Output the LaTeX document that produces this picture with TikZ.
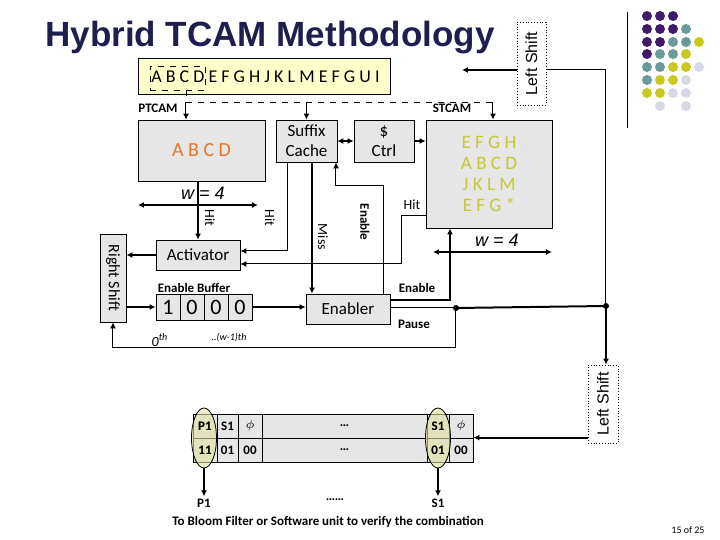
\documentclass[tikz,border=0pt]{standalone}
\usepackage{fontspec}
\setmainfont{Carlito}
\newfontfamily\arialfont{Liberation Sans}
\usetikzlibrary{arrows.meta,shapes.geometric}
\definecolor{boxgray}{HTML}{E6E6E6}
\definecolor{strfill}{HTML}{FFFFCC}
\definecolor{ptext}{HTML}{E07830}
\definecolor{stext}{HTML}{C8C832}
\definecolor{titlecol}{HTML}{1F1F4F}
\definecolor{dotP}{HTML}{3F1A6B}
\definecolor{dotT}{HTML}{6A9A9A}
\definecolor{dotY}{HTML}{C8C820}
\definecolor{dotL}{HTML}{D8D8E8}
\definecolor{ovalfill}{HTML}{E0E0A0}
\tikzset{
  box/.style={draw, fill=boxgray, inner sep=0pt, font=\fontsize{8.5}{10}\selectfont},
  cell/.style={box, minimum width=12pt, minimum height=13pt, font=\fontsize{11}{12}\selectfont},
  tcell/.style={box, minimum height=12pt, font=\fontsize{6.5}{7}\selectfont\bfseries},
  shifter/.style={draw, densely dotted, fill=white, inner sep=0pt},
  lbl/.style={font=\fontsize{6.5}{7}\selectfont\bfseries, inner sep=1pt},
  arr/.style={-{Latex[length=3pt,width=3pt]}, line width=1pt},
  thin arr/.style={-{Latex[length=3pt,width=3pt]}, line width=0.5pt},
  dot/.style={circle, inner sep=0pt, minimum size=5pt}
}
\begin{document}
\begin{tikzpicture}[x=0.5pt,y=-0.5pt]
\useasboundingbox (0,0) rectangle (720,540);

% title and page number
\node[anchor=base west, text=titlecol, font=\arialfont\bfseries\fontsize{17.5}{20}\selectfont, inner sep=0pt] (title) at (45,47) {Hybrid TCAM Methodology};
\node[font=\fontsize{5}{6}\selectfont] (page) at (688,530) {15 of 25};
\draw (627,12) -- (627,128);

% decorative dots
\foreach \row/\cols in {16/{1/P,2/P,3/P},29/{1/P,2/P,3/P,4/T},42/{1/P,2/P,3/T,4/T,5/Y},
  54/{1/P,2/T,3/T,4/Y},67/{1/T,2/T,3/Y,4/Y,5/L},80/{1/T,2/Y,3/Y,4/L},
  93/{1/Y,2/Y,3/L,4/L},106/{2/L,4/L}}
  \foreach \c/\k in \cols
    \node[dot, fill=dot\k] at (634+13*\c,\row) {};

% search string
\node[draw, fill=strfill, minimum width=126pt, minimum height=18pt, inner sep=0pt] (str) at (264,76) {};
\node[anchor=west, font=\fontsize{9}{10}\selectfont, inner sep=0pt] (strtxt) at (151,77) {A B C D E F G H J K L M E F G U I};
\node[draw, dashed, minimum width=27.5pt, minimum height=12pt, inner sep=0pt] (pfx) at (177.5,78) {};

% shifters
\node[shifter, minimum width=14.5pt, minimum height=41.5pt] (ls1) at (531.5,63.5) {};
\node[rotate=90, font=\arialfont\fontsize{8}{9}\selectfont] at (ls1) {Left Shift};
\node[shifter, minimum width=15pt, minimum height=39pt] (ls2) at (603,404) {};
\node[rotate=90, font=\arialfont\fontsize{8}{9}\selectfont] at (ls2) {Left Shift};
\node[box, minimum width=13pt, minimum height=44pt] (rs) at (113,278) {};
\node[rotate=-90, font=\fontsize{8}{9}\selectfont] at (rs) {Right Shift};

% main blocks
\node[lbl] (ptlbl) at (158,108) {PTCAM};
\node[lbl] (stlbl) at (452,108) {STCAM};
\node[box, minimum width=63.5pt, minimum height=30.5pt, text=ptext, font=\fontsize{10}{11}\selectfont] (pt) at (201.5,150.5) {A B C D};
\node[box, minimum width=30.5pt, minimum height=21pt, align=center] (sc) at (306.5,141) {Suffix\\Cache};
\node[box, minimum width=30pt, minimum height=21pt, align=center] (ctrl) at (384,141) {\$\\Ctrl};
\node[box, minimum width=63pt, minimum height=54pt, align=center, text=stext, font=\fontsize{9.5}{10.5}\selectfont] (st) at (489,174) {E F G H\\A B C D\\J K L M\\E F G *};
\node[box, minimum width=42pt, minimum height=15pt] (act) at (198,255) {Activator};
\node[box, minimum width=42pt, minimum height=15pt] (en) at (348,309) {Enabler};

% enable buffer
\node[lbl] (eblbl) at (194,288) {Enable Buffer};
\foreach \i/\v in {0/1,1/0,2/0,3/0}
  \node[cell] (b\i) at (168+24*\i,307) {\v};
\node[font=\itshape\fontsize{7}{8}\selectfont] (zth) at (160,340) {0\textsuperscript{th}};
\node[font=\itshape\fontsize{5}{6}\selectfont] (wth) at (229,338) {..(w-1)th};

% widths
\node[font=\arialfont\itshape\fontsize{9}{10}\selectfont] (w1) at (203,193) {w = 4};
\coordinate (w1l) at (138,205); \coordinate (w1r) at (258,205);
\draw[{Latex[length=3pt,width=3pt]}-{Latex[length=3pt,width=3pt]}, line width=1pt] (w1l) -- (w1r);
\node[font=\arialfont\itshape\fontsize{9}{10}\selectfont] (w2) at (497,240) {w = 4};
\coordinate (w2l) at (433,252); \coordinate (w2r) at (552,252);
\draw[{Latex[length=3pt,width=3pt]}-{Latex[length=3pt,width=3pt]}, line width=1pt] (w2l) -- (w2r);

% dashed feeds
\coordinate (tap) at (186,102);
\coordinate (tapr) at (493,102);
\draw[dashed] (pfx.south -| tap) -- (tap) -- (tapr);
\draw[thin arr] (tap) -- (tap |- pt.north);
\draw[thin arr] (tap -| sc) -- (sc.north);
\draw[thin arr] (tapr) -- (tapr |- st.north);
\coordinate (lsl) at (462,70);
\draw[arr] (ls1.west |- lsl) -- (lsl);
\coordinate (lsc) at (606,70);
\coordinate (jn) at (606,306);
\draw[line width=0.5pt] (ls1.east |- lsc) -- (lsc) -- (jn);
\draw[arr] (jn) -- (ls2.north -| jn);

% block connections
\draw[{Latex[length=3pt,width=3pt]}-{Latex[length=3pt,width=3pt]}, line width=1pt] (sc.east) -- (ctrl.west);
\draw[arr] (ctrl.east) -- (st.west |- ctrl.east);
\draw[arr] (pt.south -| act) -- (act.north);
\node[rotate=-90, font=\fontsize{7}{8}\selectfont] (hit1) at (210,218) {Hit};
\coordinate (schit) at (288,251);
\draw[thin arr] (sc.south -| schit) -- (schit) -- (act.east |- schit);
\node[rotate=-90, font=\fontsize{7}{8}\selectfont] (hit2) at (270,218) {Hit};
\coordinate (miss x) at (312,200);
\draw[arr] (sc.south -| miss x) -- (en.north -| miss x);
\node[rotate=-90, font=\fontsize{7}{8}\selectfont] (miss) at (323,237) {Miss};
\coordinate (enup) at (384,186); \coordinate (enl) at (336,186);
\draw[thin arr] (en.north -| enup) -- (enup) -- (enl) -- (sc.south -| enl);
\node[rotate=-90, lbl] (enlbl) at (365,222) {Enable};
\coordinate (sthit) at (402,216); \coordinate (sthitb) at (402,264);
\draw[thin arr] (st.west |- sthit) -- (sthit) -- (sthitb) -- (act.east |- sthitb);
\node[font=\fontsize{7}{8}\selectfont] (hit3) at (412,205) {Hit};
\draw[arr] (act.west) -- (rs.east |- act.west);
\draw[arr] (rs.east |- b0) -- (b0.west);
\draw[arr] (b3.east) -- (en.west |- b3);
\coordinate (ens) at (450,300);
\draw[arr] (en.east |- ens) -- (ens) -- (ens |- st.south);
\node[lbl] (enlbl2) at (417,288) {Enable};
\coordinate (pj) at (456,308);
\draw[line width=0.5pt] (en.east |- pj) -- (pj);
\draw[line width=1pt] (pj) -- (jn);
\fill (pj) circle (3);
\fill (jn) circle (3);
\node[lbl] (pause) at (414,324) {Pause};
\coordinate (pjb) at (456,348); \coordinate (rsb) at (113,348);
\draw[thin arr] (pj) -- (pjb) -- (rsb) -- (rs.south);

% result table
\foreach \n/\xa/\xb/\ta/\tb in {c0/193/217/P1/11, c1/217/238/S1/01, c2/238/262/$\phi$/00,
  c3/262/427/\ldots/\ldots, c4/427/449/S1/01, c5/449/473/$\phi$/00}{
  \node[tcell, minimum width={(\xb-\xa)*0.5pt}] (\n t) at ({(\xa+\xb)/2},426) {\ta};
  \node[tcell, minimum width={(\xb-\xa)*0.5pt}] (\n b) at ({(\xa+\xb)/2},450) {\tb};
}
\node[ellipse, draw, fill=ovalfill, fill opacity=0.6, minimum width=12.5pt, minimum height=30pt, inner sep=0pt] (ov1) at (204,438) {};
\node[ellipse, draw, fill=ovalfill, fill opacity=0.6, minimum width=12.5pt, minimum height=30pt, inner sep=0pt] (ov2) at (438,438) {};
\node[tcell, draw=none, fill=none] at (c0t) {P1};
\node[tcell, draw=none, fill=none] at (c0b) {11};
\node[tcell, draw=none, fill=none] at (c4t) {S1};
\node[tcell, draw=none, fill=none] at (c4b) {01};
\draw[arr] (ls2.west |- c5b.north) -- (c5b.north east);
\node[lbl] (p1) at (204,503) {P1};
\node[lbl] (dots) at (335,500) {\ldots\ldots};
\node[lbl] (s1) at (438,503) {S1};
\draw[arr] (ov1.south) -- (p1.north);
\draw[arr] (ov2.south) -- (s1.north);
\node[lbl] (bloom) at (328,522) {To Bloom Filter or Software unit to verify the combination};
\end{tikzpicture}
\end{document}
